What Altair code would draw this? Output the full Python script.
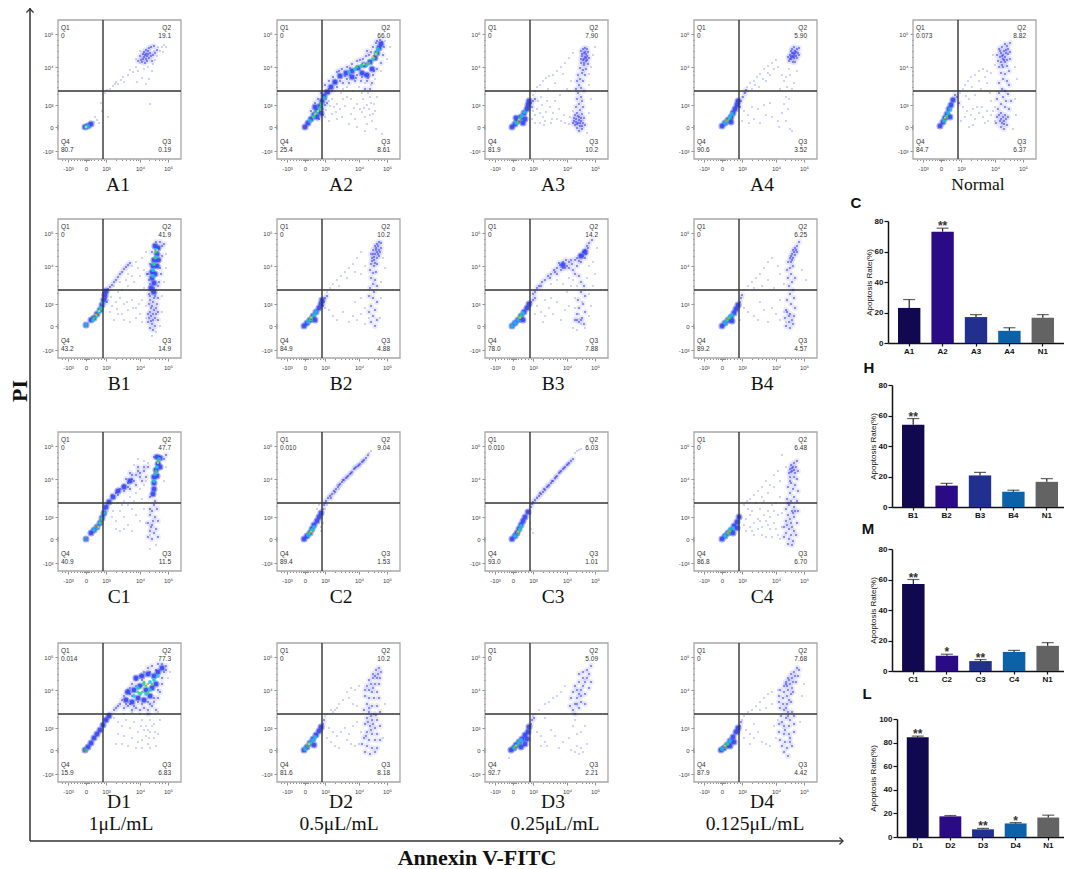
import altair as alt
import pandas as pd

# ---------- flow-cytometry panels: values (channel units: x 0-123, y 0-139) ----------
A1_q = ["0", "19.1", "0.19", "80.7"]
A1_light = [(47,66),(49,69),(52,70),(55,73),(57,75),(58,77),(60,75),(63,79),(65,82),(66,77),(70,84),(72,89),(75,87),(78,92),(80,88),(79,77),(84,81),(88,75),(91,80),(92,55),(43,56),(44,48),(50,42),(37,42),(39,39),(41,36),(36,37),(82,96),(84,101),(86,90),(90,92),(95,95),(97,99),(99,103),(102,108),(104,112),(106,114),(108,112),(100,112),(96,108),(94,88),(105,107),(82,108),(78,100)]
A1_blue = [(80,98),(82,103),(83,99),(85,105),(85,100),(86,107),(86,102),(87,104),(88,109),(88,105),(88,100),(89,103),(89,98),(90,108),(90,105),(91,101),(91,111),(92,106),(93,103),(93,112),(94,98),(95,104),(96,113),(97,106),(84,97),(87,96),(99,109)]
A1_core = [(27,32,2),(30,33,2),(33,35,2),(28,32,3),(30,33,3),(28,32,4),(28,32,5)]

A2_q = ["0", "66.0", "8.61", "25.4"]
A2_light = [(50,62),(52,58),(55,60),(57,52),(60,55),(63,50),(66,60),(70,62),(74,45),(78,40),(80,55),(83,50),(86,60),(88,42),(90,35),(92,50),(95,38),(97,55),(88,28),(80,32),(72,35),(65,42),(100,62),(93,62),(85,66),(76,68),(70,72),(64,66),(58,68),(82,72),(88,76),(94,74),(98,80),(104,88),(110,100),(113,112),(108,118),(55,45),(48,42),(52,38),(60,40),(105,25),(91,66),(96,45),(87,51),(99,30),(94,56),(49,49),(53,53),(59,47),(68,53),(77,51),(85,47),(90,54),(93,44),(98,48),(74,60),(66,70)]
A2_blue = [(48,74),(52,78),(56,82),(60,87),(65,90),(70,92),(75,95),(80,98),(86,100),(92,104),(60,72),(66,76),(72,76),(78,78),(84,78),(90,78),(96,84),(100,90),(104,96),(106,104),(107,112),(100,118),(96,112),(90,108),(46,50),(48,54),(50,56),(42,40),(46,44),(34,48),(38,56),(41,60),(44,66),(52,66),(88,84),(80,84),(70,80),(93,70),(95,76),(88,70),(99,116),(103,119),(105,117),(58,76),(63,78),(68,83),(73,84),(79,81),(85,82),(91,81),(97,88),(62,88),(73,91),(83,99),(89,103),(94,107),(52,70),(55,68),(49,60)]
A2_core = [(28,32,2),(31,36,2),(34,40,2),(37,44,2),(40,48,2),(43,53,2),(45,58,2),(47,63,2),(50,67,2),(54,72,2),(58,77,2),(63,83,2),(69,86,2),(75,88,2),(81,91,2),(87,94,2),(93,97,2),(98,101,2),(100,106,2),(102,111,2),(104,115,2),(95,90,2),(85,86,2),(90,84,2),(75,82,2),(40,42,2),(44,46,2),(38,52,2),(33,38,3),(37,43,3),(40,47,3),(43,51,3),(45,55,3),(47,61,3),(72,87,3),(78,90,3),(84,93,3),(90,94,3),(96,100,3),(99,105,3),(101,110,3),(36,42,4),(39,46,4),(42,50,4),(44,54,4),(80,92,4),(86,94,4),(92,96,4),(97,101,4),(100,107,4),(38,45,5),(41,48,5),(87,95,5),(96,102,5),(99,105,5),(28,32,6),(97,103,6)]

A3_q = ["0", "7.90", "10.2", "81.9"]
A3_light = [(48,64),(50,68),(52,72),(55,74),(58,78),(61,81),(64,83),(68,84),(72,88),(76,92),(80,96),(84,101),(88,106),(78,85),(70,76),(63,70),(56,62),(52,50),(55,46),(58,42),(50,44),(60,38),(65,52),(68,46),(72,40),(76,38),(80,36),(85,42),(84,35),(62,58),(66,36),(55,36),(75,64),(82,70),(86,78),(104,85),(106,92),(108,104),(110,112),(104,74),(106,60),(104,46),(102,26),(48,48),(47,40),(50,36),(53,58),(57,54),(61,47),(70,58),(74,50),(79,44),(88,48),(67,40),(59,34)]
A3_blue = [(96,108),(98,110),(100,111),(102,110),(99,106),(101,105),(103,107),(97,103),(100,102),(102,103),(104,101),(98,99),(101,98),(96,96),(99,94),(103,95),(95,91),(98,89),(101,90),(97,86),(93,84),(100,84),(95,80),(92,78),(98,78),(94,74),(96,71),(91,70),(99,68),(93,66),(96,62),(92,60),(97,58),(94,55),(91,52),(98,52),(95,49),(92,46),(97,45),(90,44),(94,42),(99,41),(91,40),(96,38),(89,38),(93,36),(98,36),(90,34),(95,33),(92,31),(97,30),(94,28),(100,34),(88,36),(46,56),(48,58),(47,52),(50,60),(94,39),(92,35),(96,41),(93,43),(91,37),(95,36),(89,41),(97,33),(99,100),(97,105),(100,107),(101,101),(99,96),(102,99),(96,100)]
A3_core = [(27,32,2),(30,35,2),(33,38,2),(36,42,2),(39,46,2),(42,50,2),(43,54,2),(44,58,2),(38,36,2),(40,40,2),(31,41,2),(31,36,3),(34,39,3),(37,43,3),(39,47,3),(33,37,4),(35,41,4),(34,39,5),(34,38,6)]

A4_q = ["0", "5.90", "3.52", "90.6"]
A4_light = [(48,62),(50,66),(53,72),(56,76),(60,78),(63,82),(66,85),(70,90),(74,93),(78,96),(82,99),(65,72),(72,78),(76,84),(80,90),(84,92),(88,84),(90,78),(86,70),(93,72),(92,62),(95,60),(90,55),(94,50),(88,46),(84,38),(92,38),(96,30),(98,28),(58,52),(64,50),(70,54),(76,56),(54,44),(60,40),(66,36),(72,44),(78,42),(50,48),(48,38),(55,36),(85,32),(98,70),(100,76),(103,88),(96,84),(58,70),(61,74),(69,80),(74,86),(95,90),(92,82)]
A4_blue = [(95,98),(97,100),(96,104),(98,103),(99,106),(100,101),(100,105),(101,108),(102,103),(102,107),(103,110),(104,106),(105,111),(94,102),(97,108),(99,97),(101,97),(103,101),(105,104),(98,110),(100,112),(47,58),(49,62),(51,66),(46,52),(52,69),(96,100),(98,106),(100,103),(101,106),(99,102),(97,102)]
A4_core = [(28,33,2),(31,36,2),(34,39,2),(37,42,2),(39,46,2),(41,50,2),(43,54,2),(44,58,2),(37,37,2),(31,36,3),(33,38,3),(36,42,3),(38,45,3),(33,38,4),(35,40,4),(33,38,5),(33,38,6)]

N_q = ["0.073", "8.82", "6.37", "84.7"]
N_light = [(47,66),(50,70),(52,74),(55,78),(58,82),(62,84),(66,88),(70,90),(74,88),(78,86),(82,94),(80,104),(56,60),(62,64),(68,70),(74,76),(50,52),(54,48),(58,44),(62,40),(66,46),(70,42),(74,48),(78,44),(82,38),(72,36),(60,34),(52,42),(48,38),(64,52),(78,58),(82,52),(77,66),(102,92),(104,80),(102,60),(103,44),(100,30),(56,32),(53,63),(59,72),(66,78),(72,82),(60,50),(69,52),(75,38),(80,48)]
N_blue = [(86,110),(89,112),(92,115),(94,113),(97,116),(88,106),(91,108),(93,109),(95,110),(84,104),(87,102),(90,104),(92,102),(95,105),(97,107),(85,98),(88,97),(91,99),(94,99),(97,100),(86,92),(90,92),(94,93),(88,86),(92,85),(96,88),(90,80),(94,78),(86,76),(96,74),(89,70),(92,68),(86,66),(95,65),(90,62),(84,60),(93,58),(98,58),(88,55),(92,52),(85,50),(96,50),(88,46),(92,44),(84,42),(95,42),(87,38),(91,38),(83,36),(94,34),(88,32),(91,30),(46,56),(44,62),(42,64),(89,103),(93,106),(90,100),(87,108),(92,97),(89,94),(88,40),(90,42),(93,40),(86,44),(91,35),(89,36)]
N_core = [(27,33,2),(30,37,2),(32,41,2),(34,45,2),(36,50,2),(38,54,2),(40,59,2),(37,42,2),(31,38,3),(33,42,3),(35,46,3),(37,50,3),(32,40,4),(34,43,4),(32,41,5),(32,40,6)]

B1_q = ["0", "41.9", "14.9", "43.2"]
B1_light = [(50,58),(54,52),(58,56),(62,60),(66,54),(70,48),(74,58),(78,50),(82,44),(84,58),(60,44),(56,38),(52,46),(66,38),(72,36),(78,40),(84,36),(64,68),(70,72),(76,76),(82,82),(86,88),(70,84),(74,92),(78,96),(84,100),(88,106),(104,62),(106,76),(108,90),(108,104),(104,46),(102,32),(98,26),(94,22),(56,72),(62,76),(86,70),(88,52),(88,40),(53,61),(59,49),(64,44),(69,56),(75,50),(81,54),(60,66),(68,78),(74,82),(80,90)]
B1_blue = [(48,66),(50,69),(52,71),(54,73),(56,76),(58,78),(60,81),(62,84),(64,86),(66,89),(68,91),(70,93),(72,95),(91,64),(94,66),(97,62),(100,60),(92,58),(95,56),(99,54),(93,50),(96,48),(100,46),(90,44),(93,42),(97,40),(100,38),(90,36),(94,34),(97,32),(92,30),(95,28),(96,70),(100,72),(92,74),(90,84),(103,84),(102,98),(92,94),(104,112),(94,106),(98,116),(102,116),(106,114),(46,62),(44,58),(48,60),(49,56),(92,62),(96,60),(91,54),(94,52),(98,50),(92,46),(95,44),(98,44),(91,40),(95,38),(93,37),(89,84),(91,78),(101,76),(102,90),(104,102)]
B1_core = [(28,33,2),(33,38,2),(36,40,2),(39,44,2),(42,48,2),(44,53,2),(46,58,2),(47,63,2),(48,67,2),(97,112,2),(100,110,2),(99,104,2),(96,98,2),(100,98,2),(95,92,2),(99,92,2),(94,86,2),(97,84,2),(94,80,2),(96,75,2),(93,70,2),(96,66,2),(28,33,3),(35,38,3),(38,42,3),(41,46,3),(43,50,3),(45,55,3),(98,108,3),(98,101,3),(96,94,3),(95,88,3),(95,82,3),(36,40,4),(39,44,4),(42,48,4),(98,106,4),(97,100,4),(96,94,4),(38,43,5),(41,47,5),(99,108,5),(37,42,6),(39,44,6)]

B2_q = ["0", "10.2", "4.88", "84.9"]
B2_light = [(50,66),(53,70),(56,74),(60,78),(64,82),(68,86),(72,90),(76,94),(80,100),(84,106),(62,72),(70,80),(78,86),(84,84),(88,92),(48,50),(52,48),(56,42),(60,38),(66,46),(72,36),(76,42),(80,38),(84,44),(88,34),(78,56),(84,60),(88,50),(92,40),(106,100),(108,90),(104,76),(104,60),(103,40)]
B2_blue = [(94,104),(96,108),(98,112),(100,114),(102,116),(104,115),(95,100),(98,104),(100,106),(102,108),(104,110),(97,98),(100,100),(102,102),(94,94),(97,92),(100,94),(93,88),(96,85),(99,86),(94,80),(98,78),(96,74),(100,72),(93,70),(97,66),(92,62),(96,60),(100,56),(94,52),(98,48),(92,46),(96,42),(100,38),(94,36),(98,32),(47,56),(48,60),(46,52),(50,62),(96,104),(99,108),(97,101),(101,104),(95,97),(98,95),(99,110),(101,112),(103,106)]
B2_core = [(27,32,2),(30,35,2),(33,38,2),(36,42,2),(39,46,2),(42,50,2),(44,54,2),(45,58,2),(38,38,2),(31,36,3),(34,39,3),(37,43,3),(39,46,3),(33,38,4),(35,41,4),(34,40,5),(34,39,6)]

B3_q = ["0", "14.2", "7.88", "78.0"]
B3_light = [(52,52),(56,46),(60,42),(64,50),(68,44),(72,56),(76,38),(80,48),(84,52),(60,58),(66,60),(58,36),(50,44),(88,30),(92,28),(96,34),(100,30),(104,42),(106,52),(104,64),(108,72),(110,84),(108,96),(112,110),(82,66),(86,72),(90,60),(78,74),(72,78),(66,74),(90,50),(94,44),(97,56),(100,68),(92,72),(88,78),(84,80),(102,80),(104,92)]
B3_blue = [(48,64),(50,66),(52,70),(54,72),(57,76),(60,78),(63,82),(66,84),(69,88),(72,90),(75,93),(78,96),(81,98),(84,96),(87,94),(90,98),(92,100),(95,103),(98,106),(100,108),(102,112),(104,115),(107,118),(72,84),(76,88),(80,90),(84,90),(88,88),(92,92),(96,96),(100,100),(90,84),(94,82),(96,76),(99,72),(96,66),(100,62),(93,58),(98,54),(94,50),(100,46),(92,44),(97,40),(94,36),(99,34),(90,38),(46,56),(48,58),(50,60),(74,95),(78,90),(82,92),(86,98),(94,97),(98,102),(101,104),(103,110),(70,86),(65,80),(56,72),(92,38),(96,38)]
B3_core = [(27,32,2),(30,35,2),(33,38,2),(36,42,2),(39,46,2),(42,50,2),(44,54,2),(96,102,2),(100,106,2),(78,93,2),(38,38,2),(30,35,3),(33,38,3),(36,42,3),(38,45,3),(34,40,4),(36,42,4),(35,40,5),(35,39,6),(27,32,3)]

B4_q = ["0", "6.25", "4.57", "89.2"]
B4_light = [(50,68),(54,72),(58,76),(62,80),(66,84),(70,90),(74,96),(78,100),(60,70),(68,72),(74,78),(80,70),(86,84),(84,92),(90,74),(50,50),(54,46),(60,42),(64,38),(70,48),(74,36),(78,50),(82,44),(86,58),(86,38),(66,56),(90,46),(92,36),(108,88),(112,78),(46,38)]
B4_blue = [(96,100),(98,104),(99,108),(101,110),(103,112),(105,116),(94,96),(97,96),(99,100),(101,103),(103,106),(96,90),(99,92),(93,88),(97,84),(94,80),(98,76),(101,80),(95,72),(99,68),(96,64),(100,60),(93,58),(97,54),(101,50),(92,48),(96,44),(100,42),(91,40),(95,36),(99,34),(92,32),(96,30),(46,56),(47,60),(45,52),(48,63),(98,98),(100,106),(97,102),(102,108),(95,42),(93,46),(98,38)]
B4_core = [(28,32,2),(31,35,2),(34,38,2),(37,41,2),(40,45,2),(42,49,2),(44,53,2),(38,37,2),(31,35,3),(33,38,3),(36,41,3),(38,43,3),(33,38,4),(35,40,4),(34,39,5),(34,39,6)]

C1_q = ["0", "47.7", "11.5", "40.9"]
C1_light = [(50,60),(54,54),(58,50),(62,60),(66,54),(70,46),(74,62),(78,56),(82,50),(62,40),(66,42),(74,40),(58,42),(86,62),(88,48),(92,36),(98,26),(92,22),(60,68),(66,70),(72,74),(78,78),(82,82),(86,86),(88,90),(80,112),(86,110),(90,108),(76,106),(106,90),(108,104),(55,60),(64,66),(70,66),(76,70),(84,72)]
C1_blue = [(54,76),(58,78),(62,82),(66,86),(70,88),(74,92),(78,96),(82,98),(86,100),(90,104),(66,80),(72,82),(78,86),(84,90),(88,94),(72,98),(80,104),(92,62),(96,66),(99,62),(92,56),(97,54),(100,50),(90,48),(94,46),(98,42),(92,40),(96,38),(100,34),(90,34),(94,32),(97,70),(92,74),(106,112),(108,116),(96,114),(47,62),(46,56),(68,92),(74,96),(80,100),(86,104),(60,76),(70,84),(76,90),(82,94),(94,60),(95,50),(93,44)]
C1_core = [(28,32,2),(33,38,2),(36,41,2),(39,44,2),(42,48,2),(44,53,2),(46,58,2),(48,64,2),(51,69,2),(55,74,2),(60,80,2),(66,84,2),(72,90,2),(99,114,2),(102,113,2),(100,107,2),(98,101,2),(102,104,2),(96,94,2),(99,95,2),(96,88,2),(96,82,2),(95,77,2),(28,32,3),(36,41,3),(39,44,3),(42,48,3),(44,53,3),(46,58,3),(101,112,3),(99,104,3),(97,97,3),(96,90,3),(39,44,4),(42,48,4),(44,52,4),(100,110,4),(98,100,4),(40,44,5),(100,108,5),(39,44,6),(28,32,6)]

C2_q = ["0.010", "9.04", "1.53", "89.4"]
C2_light = [(48,62),(50,66),(44,44),(46,48),(44,40),(92,118),(94,120),(72,96),(62,82),(54,76),(57,77),(40,62),(42,66),(60,86)]
C2_blue = [(46,62),(47,66),(48,68),(49,70),(51,73),(53,75),(55,77),(57,80),(59,82),(61,84),(63,87),(65,89),(67,91),(69,93),(71,95),(73,97),(75,99),(77,102),(79,104),(81,105),(83,107),(85,109),(87,111),(89,113),(91,116),(54,73),(58,79),(62,86),(66,91),(70,94),(74,98),(78,103),(82,106),(86,110)]
C2_core = [(27,32,2),(30,35,2),(33,38,2),(35,42,2),(37,46,2),(40,50,2),(42,54,2),(44,58,2),(31,36,3),(33,38,3),(35,41,3),(37,44,3),(33,38,4),(35,41,4),(34,39,5),(34,38,6)]

C3_q = ["0.010", "6.03", "1.01", "93.0"]
C3_light = [(50,70),(52,74),(46,42),(48,38),(45,48),(60,82),(90,118),(92,120),(94,121),(96,122),(64,84),(70,92),(54,76)]
C3_blue = [(46,64),(47,67),(48,69),(50,71),(52,73),(54,75),(56,77),(58,79),(60,81),(62,84),(64,86),(66,88),(68,90),(70,93),(72,95),(74,98),(76,100),(78,102),(80,104),(82,106),(84,108),(86,110),(88,112),(55,78),(59,82),(63,85),(67,90),(71,94),(75,99),(79,103),(83,107)]
C3_core = [(27,32,2),(30,35,2),(32,38,2),(34,42,2),(36,46,2),(38,50,2),(40,54,2),(43,59,2),(30,35,3),(33,38,3),(35,42,3),(36,45,3),(33,38,4),(34,41,4),(33,39,5),(33,38,6)]

C4_q = ["0", "6.48", "6.70", "86.8"]
C4_light = [(50,66),(53,70),(56,72),(60,76),(64,80),(68,84),(72,90),(76,86),(80,96),(84,100),(68,74),(74,78),(80,84),(86,90),(52,52),(56,56),(60,48),(64,52),(68,44),(72,50),(76,42),(80,48),(84,36),(88,44),(52,40),(56,44),(60,36),(64,42),(68,36),(72,34),(76,54),(80,60),(84,56),(88,58),(50,46),(58,60),(66,62),(74,60),(82,68),(70,56),(78,34),(86,32),(92,104),(88,116),(54,62),(62,68),(70,70),(78,66),(86,74),(58,40),(66,50),(74,46),(82,42)]
C4_blue = [(97,106),(100,108),(103,110),(96,102),(99,104),(102,104),(95,98),(98,100),(101,98),(104,100),(96,94),(100,94),(103,92),(97,88),(101,86),(94,84),(99,82),(104,80),(96,78),(100,74),(93,72),(97,70),(103,70),(95,66),(100,64),(92,62),(98,60),(104,60),(94,56),(100,54),(92,50),(97,48),(103,48),(90,44),(95,42),(100,40),(92,38),(97,36),(102,36),(90,34),(95,32),(99,30),(94,27),(98,26),(98,103),(97,99),(100,101),(96,90),(99,58),(96,52),(93,46),(98,44),(101,60),(94,68)]
C4_core = [(28,32,2),(31,35,2),(34,38,2),(37,41,2),(40,45,2),(43,49,2),(45,54,2),(39,38,2),(43,43,2),(31,35,3),(34,38,3),(36,41,3),(39,43,3),(34,38,4),(36,40,4),(35,39,5),(35,39,6)]

D1_q = ["0.014", "77.3", "6.83", "15.9"]
D1_light = [(56,64),(60,60),(64,56),(68,62),(72,54),(76,60),(80,50),(84,62),(88,56),(92,62),(96,58),(88,46),(92,50),(96,44),(84,42),(90,38),(80,40),(74,44),(66,46),(60,48),(70,36),(78,34),(84,34),(92,34),(98,36),(100,48),(102,62),(58,38),(64,38),(110,104),(112,110),(66,68),(74,70),(82,68),(92,68),(100,70),(90,52),(94,56),(86,52),(91,44),(97,50),(83,56)]
D1_blue = [(62,78),(66,74),(70,76),(74,72),(78,74),(82,72),(86,74),(90,72),(94,76),(98,72),(66,86),(70,92),(74,98),(78,102),(82,106),(86,110),(90,114),(94,116),(100,118),(104,118),(108,116),(106,110),(104,98),(102,90),(100,84),(96,80),(64,82),(68,90),(72,94),(90,68),(56,72),(58,74),(60,76),(52,68),(50,66),(48,62),(74,86),(80,80),(90,80),(100,92),(108,112),(72,78),(76,76),(84,78),(92,78),(96,84),(68,78),(72,88),(78,96),(84,102),(92,110),(98,112),(104,104)]
D1_core = [(27,32,2),(30,35,2),(33,39,2),(36,44,2),(39,48,2),(42,52,2),(45,57,2),(48,62,2),(51,66,2),(68,82,2),(74,80,2),(80,84,2),(86,82,2),(92,86,2),(70,90,2),(76,92,2),(82,96,2),(88,92,2),(94,94,2),(98,98,2),(78,104,2),(84,106,2),(90,108,2),(96,106,2),(100,110,2),(104,114,2),(76,86,3),(82,88,3),(88,88,3),(92,92,3),(80,94,3),(86,98,3),(92,100,3),(96,102,3),(100,106,3),(84,90,4),(88,96,4),(94,98,4),(80,90,4),(90,90,4),(86,100,4),(88,98,5),(84,94,5),(28,32,3),(27,32,4),(90,98,6),(27,32,6)]

D2_q = ["0", "10.2", "8.18", "81.6"]
D2_light = [(48,66),(50,68),(54,72),(58,72),(62,78),(66,82),(60,74),(56,70),(70,90),(74,94),(78,92),(82,96),(72,84),(76,78),(80,76),(52,54),(56,50),(60,46),(64,50),(68,54),(72,48),(76,56),(80,60),(54,40),(58,36),(62,34),(74,38),(78,36),(82,38),(84,50),(50,44),(70,42),(108,78),(106,44)]
D2_blue = [(96,108),(99,112),(102,114),(104,110),(92,102),(96,104),(100,104),(103,104),(90,96),(94,98),(98,98),(102,98),(88,92),(92,92),(96,94),(100,90),(88,86),(92,84),(97,84),(102,84),(90,78),(95,76),(100,76),(87,72),(92,70),(97,68),(103,70),(90,64),(95,62),(100,62),(88,58),(93,56),(98,54),(103,56),(90,50),(95,48),(100,48),(87,44),(92,42),(98,42),(103,42),(85,38),(90,36),(95,34),(100,34),(88,30),(93,28),(98,30),(46,58),(47,62),(45,54),(94,66),(91,60),(96,58),(99,67),(94,52),(89,46),(101,108),(98,106),(95,90),(92,74)]
D2_core = [(27,32,2),(30,35,2),(33,39,2),(36,43,2),(39,47,2),(42,51,2),(44,55,2),(37,37,2),(28,33,3),(31,36,3),(33,39,3),(36,42,3),(38,45,3),(31,36,4),(34,39,4),(32,38,5),(31,36,6)]

D3_q = ["0", "5.09", "2.21", "92.7"]
D3_light = [(48,66),(50,68),(54,72),(60,78),(64,80),(68,84),(72,86),(76,90),(80,96),(60,64),(52,50),(56,46),(60,40),(66,52),(70,46),(74,34),(78,40),(84,44),(88,56),(90,62),(92,48),(96,50),(100,56),(92,36),(96,34),(98,30),(90,30),(94,28),(102,38),(86,32),(56,36),(62,36),(24,24)]
D3_blue = [(88,72),(90,78),(92,84),(94,88),(96,92),(98,96),(100,100),(102,104),(104,108),(86,84),(88,90),(92,92),(96,86),(100,88),(104,94),(106,100),(90,96),(94,100),(98,104),(96,80),(90,68),(94,74),(100,78),(106,116),(94,108),(102,112),(85,76),(98,110),(92,78),(46,58),(47,62),(49,64)]
D3_core = [(26,32,2),(29,34,2),(31,37,2),(34,40,2),(37,43,2),(40,47,2),(43,50,2),(44,55,2),(36,35,2),(40,38,2),(42,43,2),(29,34,3),(31,36,3),(34,40,3),(36,42,3),(30,35,4),(33,38,4),(31,36,5),(31,35,6)]

D4_q = ["0", "7.68", "4.42", "87.9"]
D4_light = [(48,62),(50,66),(54,70),(58,72),(62,76),(66,80),(70,84),(74,88),(78,90),(84,92),(66,72),(72,74),(78,78),(52,52),(56,48),(60,44),(64,50),(68,40),(72,38),(76,36),(60,58),(50,44),(56,38),(84,62),(80,56),(82,44),(108,86),(110,98),(106,60)]
D4_blue = [(94,104),(97,108),(100,110),(103,114),(105,112),(92,100),(95,102),(98,104),(101,106),(104,106),(90,96),(93,96),(96,98),(99,100),(102,100),(86,92),(90,90),(94,92),(98,94),(85,86),(89,84),(93,86),(97,88),(85,80),(89,78),(93,78),(97,80),(86,74),(90,72),(94,70),(98,70),(87,66),(92,64),(96,62),(100,66),(85,58),(90,56),(95,56),(100,58),(85,50),(90,48),(95,48),(100,50),(86,42),(91,40),(96,40),(88,36),(93,34),(98,36),(90,30),(94,26),(46,56),(47,60),(45,50),(92,74),(94,66),(91,52),(96,44),(88,60),(95,82),(99,90),(92,98)]
D4_core = [(27,32,2),(30,34,2),(33,37,2),(36,41,2),(39,45,2),(42,50,2),(44,54,2),(36,36,2),(40,40,2),(28,33,3),(31,35,3),(33,38,3),(36,41,3),(31,35,4),(34,38,4),(31,36,5),(31,35,6)]

panels = [
    ("A1", None, 58, 20, 60, A1_q, A1_light, A1_blue, A1_core),
    ("A2", None, 277, 20, 64, A2_q, A2_light, A2_blue, A2_core),
    ("A3", None, 485, 20, 68, A3_q, A3_light, A3_blue, A3_core),
    ("A4", None, 694, 20, 68, A4_q, A4_light, A4_blue, A4_core),
    ("Normal", None, 913, 20, 65, N_q, N_light, N_blue, N_core),
    ("B1", None, 58, 219, 61, B1_q, B1_light, B1_blue, B1_core),
    ("B2", None, 277, 219, 64, B2_q, B2_light, B2_blue, B2_core),
    ("B3", None, 485, 219, 68, B3_q, B3_light, B3_blue, B3_core),
    ("B4", None, 694, 219, 68, B4_q, B4_light, B4_blue, B4_core),
    ("C1", None, 58, 432, 61, C1_q, C1_light, C1_blue, C1_core),
    ("C2", None, 277, 432, 64, C2_q, C2_light, C2_blue, C2_core),
    ("C3", None, 485, 432, 68, C3_q, C3_light, C3_blue, C3_core),
    ("C4", None, 694, 432, 68, C4_q, C4_light, C4_blue, C4_core),
    ("D1", "1\u03bcL/mL", 58, 643, 61, D1_q, D1_light, D1_blue, D1_core),
    ("D2", "0.5\u03bcL/mL", 277, 643, 64, D2_q, D2_light, D2_blue, D2_core),
    ("D3", "0.25\u03bcL/mL", 485, 643, 68, D3_q, D3_light, D3_blue, D3_core),
    ("D4", "0.125\u03bcL/mL", 694, 643, 68, D4_q, D4_light, D4_blue, D4_core),
]
sub_shift = {"D1": 2, "D2": -2, "D3": 2, "D4": -7}

# ---------- bar panels ----------
C_cats = ["A1", "A2", "A3", "A4", "N1"]
C_vals = [23, 73, 17, 8, 16.5]
C_errs = [28.5, 75.3, 18.6, 10, 18.6]
C_star = ["", "**", "", "", ""]
H_cats = ["B1", "B2", "B3", "B4", "N1"]
H_vals = [54, 14, 20.7, 10, 16.5]
H_errs = [58, 15.5, 22.7, 11, 18.6]
H_star = ["**", "", "", "", ""]
M_cats = ["C1", "C2", "C3", "C4", "N1"]
M_vals = [57, 10, 6.5, 12.5, 16.5]
M_errs = [60, 11, 7.5, 13.5, 18.6]
M_star = ["**", "*", "**", "", ""]
L_cats = ["D1", "D2", "D3", "D4", "N1"]
L_vals = [84.5, 17.5, 6.5, 11.5, 16.5]
L_errs = [85.5, 18.2, 7.3, 12.2, 18.5]
L_star = ["**", "", "**", "*", ""]
bar_colors = ["#11094f", "#2a0a85", "#21308f", "#0b62a8", "#636363"]

W, H = 1056, 861   # drawing area; page position minus the 8px margin gives plot position
PW, PH = 123, 139

x_major = [10, 28, 48, 82, 110]
x_minor = [4, 7, 13, 16, 19, 22, 24, 26, 27, 29, 30, 31, 33, 36, 40, 43, 46, 58, 64, 68, 72, 75, 78, 80, 91, 97, 101, 104, 107]
y_major = [8, 32, 54, 92, 125]
y_minor = [30, 31, 33, 34, 65, 72, 78, 84, 88, 102, 108, 114, 119]
x_names = ["-10\u00b3", "0", "10\u00b3", "10\u2074", "10\u2075"]
y_names = ["-10\u00b3", "0", "10\u00b3", "10\u2074", "10\u2075"]


def label_expr(vals, names):
    parts = "".join(f"datum.value=={v}?'{n}':" for v, n in zip(vals, names))
    return parts + "''"


def tick_size(vals):
    return {"condition": {"test": f"indexof({vals},datum.value)>=0", "value": 3}, "value": 1.5}


level_col = {0: "#a4a4ff", 1: "#3a3af4", 2: "#3444f2", 3: "#18c4e0", 4: "#38d84c", 5: "#e8e030", 6: "#f02818"}
level_size = {0: 2.2, 1: 2.4, 2: 20, 3: 15, 4: 9, 5: 5, 6: 3}
col_enc = alt.Color("col:N", scale=None)
size_enc = alt.Size("sz:Q", scale=None)

q_left_x, q_right_x = 3, 113
q_top_name, q_top_val, q_bot_name, q_bot_val = 131, 123, 17, 9
gate_x, gate_y = 45, 68


def styled(rows):
    d = pd.DataFrame(rows, columns=["x", "y", "level"])
    d["col"] = d["level"].map(level_col)
    d["sz"] = d["level"].map(level_size)
    return d


def panel(name, sub, px, py, cx, q, light, blue, core):
    sx = alt.Scale(domain=[0, PW], range=[px - 8, px - 8 + PW], nice=False, zero=False)
    sy = alt.Scale(domain=[0, PH], range=[py - 8 + PH, py - 8], nice=False, zero=False)
    ax_x = alt.Axis(orient="bottom", offset=py - 8 + PH - H, values=x_major + x_minor, labelExpr=label_expr(x_major, x_names),
                    labelOverlap=False, labelFontSize=6, labelColor="#444", labelFont="Liberation Sans", labelPadding=3, labelFlush=False,
                    tickColor="#444", tickWidth=0.6, tickSize=tick_size(x_major), domain=False, grid=False, title=None)
    ax_y = alt.Axis(orient="left", offset=-(px - 8), values=y_major + y_minor, labelExpr=label_expr(y_major, y_names),
                    labelOverlap=False, labelFontSize=6, labelColor="#444", labelFont="Liberation Sans", labelPadding=2, labelFlush=False,
                    tickColor="#444", tickWidth=0.6, tickSize=tick_size(y_major), domain=False, grid=False, title=None)
    X = lambda f: alt.X(f, type="quantitative", scale=sx, axis=ax_x)
    Y = lambda f: alt.Y(f, type="quantitative", scale=sy, axis=ax_y)
    dots = styled([(a, b, 0) for a, b in light] + [(a, b, 1) for a, b in blue])
    blue_df = styled([(a, b, 1) for a, b in blue])
    blobs = styled(core)
    blob_base = blobs[blobs["level"] == 2]
    haze = alt.Chart(blue_df).mark_circle(size=34, color="#5a64ff", opacity=0.13).encode(x=X("x"), y=Y("y"))
    core_haze = alt.Chart(blob_base).mark_circle(size=50, color="#3c4cf4", opacity=0.5).encode(x=X("x"), y=Y("y"))
    lay_dots = alt.Chart(dots).mark_square(opacity=0.9).encode(x=X("x"), y=Y("y"), color=col_enc, size=size_enc)
    lay_core = alt.Chart(blobs).mark_circle(opacity=0.85).encode(x=X("x"), y=Y("y"), color=col_enc, size=size_enc)
    frame = alt.Chart(pd.DataFrame({"x": [0], "x2": [PW], "y": [0], "y2": [PH]})).mark_rect(
        fillOpacity=0, stroke="#a8a8a8", strokeWidth=1.3).encode(x=X("x"), x2="x2:Q", y=Y("y"), y2="y2:Q")
    vg = alt.Chart(pd.DataFrame({"x": [gate_x], "y": [0], "y2": [PH]})).mark_rule(color="#333", strokeWidth=1.4).encode(
        x=X("x"), y=Y("y"), y2="y2:Q")
    hg = alt.Chart(pd.DataFrame({"x": [0], "x2": [PW], "y": [gate_y]})).mark_rule(color="#333", strokeWidth=1.4).encode(
        x=X("x"), x2="x2:Q", y=Y("y"))
    left = pd.DataFrame({"x": q_left_x, "y": [q_top_name, q_top_val, q_bot_name, q_bot_val], "t": ["Q1", q[0], "Q4", q[3]]})
    right = pd.DataFrame({"x": q_right_x, "y": [q_top_name, q_top_val, q_bot_name, q_bot_val], "t": ["Q2", q[1], "Q3", q[2]]})
    tl = alt.Chart(left).mark_text(align="left", baseline="middle", fontSize=6.5, font="Liberation Sans", color="#333").encode(
        x=X("x"), y=Y("y"), text="t:N")
    tr = alt.Chart(right).mark_text(align="right", baseline="middle", fontSize=6.5, font="Liberation Sans", color="#333").encode(
        x=X("x"), y=Y("y"), text="t:N")
    row4 = sub is not None
    names = [{"x": cx, "y": -19.5 if row4 else -26, "t": name}]
    if row4:
        names.append({"x": cx + sub_shift[name], "y": -42, "t": sub})
    cap = alt.Chart(pd.DataFrame(names)).mark_text(
        align="center", baseline="middle", fontSize=17.5 if name == "Normal" else 19.5, font="Liberation Serif", color="#111").encode(
        x=X("x"), y=Y("y"), text="t:N")
    return alt.layer(core_haze, haze, lay_dots, lay_core, frame, vg, hg, tl, tr, cap)


def bars(cats, vals, errs, stars, x0, x1, top, base, ymax, yvals, letter, lx, ly):
    d = pd.DataFrame({"c": cats, "v": vals, "e": errs, "s": stars, "col": bar_colors})
    sx = alt.Scale(domain=cats, range=[x0 - 8, x1 - 8], paddingInner=0.33, paddingOuter=0.3)
    sy = alt.Scale(domain=[0, ymax], range=[base - 8, top - 8], nice=False, zero=True)
    ax_x = alt.Axis(orient="bottom", offset=base - 8 - H, labelAngle=0, labelFontSize=8, labelFontWeight="bold", labelColor="#111",
                    labelFont="Liberation Sans", labelPadding=1, tickSize=3, tickColor="#111", tickWidth=1.2, domainColor="#111",
                    domainWidth=1.5, grid=False, title=None)
    ax_y = alt.Axis(orient="left", offset=-(x0 - 8), values=yvals, labelFontSize=8, labelFontWeight="bold", labelColor="#111",
                    labelFont="Liberation Sans", labelPadding=1, tickSize=4, tickColor="#111", tickWidth=1.2, domainColor="#111",
                    domainWidth=1.5, grid=False, title="Apoptosis Rate(%)", titleFontSize=8, titleFontWeight="normal",
                    titleFont="Liberation Sans", titleColor="#111", titlePadding=1)
    X = alt.X("c:N", scale=sx, axis=ax_x, sort=cats)
    Y = lambda f: alt.Y(f, type="quantitative", scale=sy, axis=ax_y)
    b = alt.Chart(d).mark_bar().encode(x=X, y=Y("v"), color=col_enc)
    r = alt.Chart(d).mark_rule(strokeWidth=1.2, color="#222").encode(x=X, y=Y("v"), y2="e:Q")
    t = alt.Chart(d).mark_tick(size=12, thickness=1.2, color="#222", orient="horizontal").encode(x=X, y=Y("e"))
    s = alt.Chart(d).mark_text(fontSize=12, fontWeight="bold", font="Liberation Sans", color="#333", baseline="middle", dy=-2).encode(
        x=X, y=Y("e"), text="s:N")
    let = alt.Chart().mark_text(text=letter, fontSize=15, fontWeight="bold", font="Liberation Sans", color="#111", align="center", baseline="middle").encode(
        x=alt.value(lx - 8), y=alt.value(ly - 8))
    return alt.layer(b, r, t, s, let)


layers = [panel(*p) for p in panels]
layers.append(bars(C_cats, C_vals, C_errs, C_star, 888, 1064, 221, 343, 80, [0, 20, 40, 60, 80], "C", 856, 203))
layers.append(bars(H_cats, H_vals, H_errs, H_star, 892, 1068, 385, 507, 80, [0, 20, 40, 60, 80], "H", 869, 368))
layers.append(bars(M_cats, M_vals, M_errs, M_star, 892, 1069, 549, 671, 80, [0, 20, 40, 60, 80], "M", 868, 529))
layers.append(bars(L_cats, L_vals, L_errs, L_star, 897, 1069, 719, 837, 100, [0, 20, 40, 60, 80, 100], "L", 867, 694))

# outer axes of the figure
y_line = alt.Chart().mark_rule(color="#333", strokeWidth=1.5).encode(x=alt.value(22), y=alt.value(0), y2=alt.value(833))
x_line = alt.Chart().mark_rule(color="#333", strokeWidth=1.5).encode(y=alt.value(833), x=alt.value(22), x2=alt.value(835))
head_up = alt.Chart().mark_point(shape="M-1,1L0,0L1,1", filled=False, color="#333", strokeWidth=1.3, size=50, opacity=1).encode(
    x=alt.value(22), y=alt.value(1))
head_right = alt.Chart().mark_point(shape="M-1,-1L0,0L-1,1", filled=False, color="#333", strokeWidth=1.3, size=50, opacity=1).encode(
    x=alt.value(835), y=alt.value(833))
pi_text = alt.Chart().mark_text(text="PI", angle=270, fontSize=22, fontWeight="bold", font="Liberation Serif", color="#111",
                                align="center", baseline="middle").encode(x=alt.value(12), y=alt.value(383))
ann_text = alt.Chart().mark_text(text="Annexin V-FITC", fontSize=22, fontWeight="bold", font="Liberation Serif", color="#111",
                                 align="center", baseline="middle").encode(x=alt.value(469), y=alt.value(850))
layers += [y_line, x_line, head_up, head_right, pi_text, ann_text]

chart = (
    alt.layer(*layers)
    .resolve_scale(x="independent", y="independent")
    .properties(width=W, height=H, padding=0, autosize=alt.AutoSizeParams(type="none"), background="white")
    .configure_view(stroke=None)
)
chart.save("out.html", embed_options={"renderer": "svg", "actions": False})
